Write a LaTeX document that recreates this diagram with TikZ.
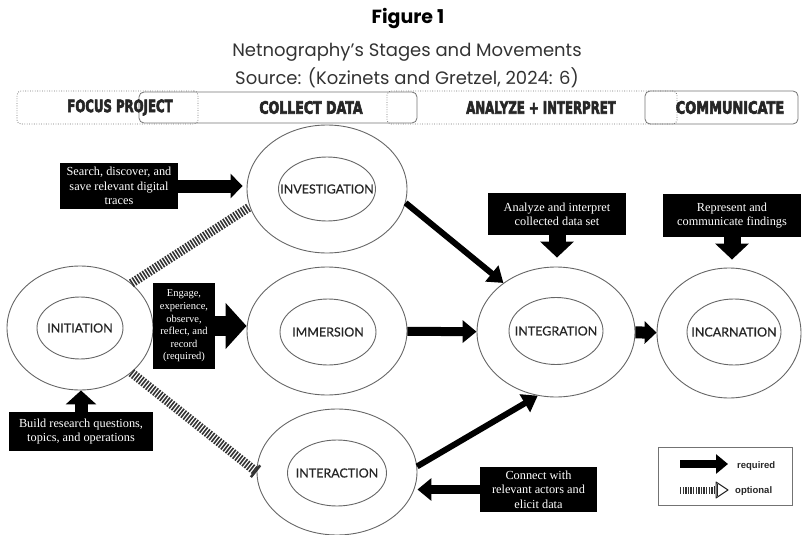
\documentclass[tikz,border=0pt]{standalone}
\usepackage{graphicx}
\usepackage{fontspec}
\setmainfont{Liberation Serif}
\newfontfamily\titlefont{Poppins}
\newfontfamily\hdrfont[BoldFeatures={FakeBold=4}]{DejaVu Sans}
\newfontfamily\labfont[FakeBold=0.6]{Lato}
\newfontfamily\legfont{Liberation Sans}
\usetikzlibrary{shapes.geometric,arrows.meta}
\begin{document}
\begin{tikzpicture}[x=1pt,y=-1pt,
  outerell/.style={draw=black!60, line width=0.9pt, ellipse, inner sep=0pt},
  innerell/.style={draw=black!60, line width=0.9pt, ellipse, inner sep=0pt},
  lab/.style={font=\labfont\fontsize{12.5}{14}\selectfont, text=black!85, inner sep=0pt},
  blk/.style={fill=black, text=white, align=center, inner sep=0pt,
    font=\fontsize{12.3}{14.3}\selectfont},
  hdr/.style={font=\hdrfont\bfseries\fontsize{17}{20}\selectfont, text=black!85, inner sep=0pt},
  hdotted/.style={draw=black!55, line width=0.8pt, dash pattern=on 0.8pt off 1.6pt, rounded corners=4pt, inner sep=0pt},
  hsolid/.style={draw=black!55, line width=0.8pt, rounded corners=5pt, inner sep=0pt},
  barrow/.style n args={3}{draw=black, line width=#1, -{Triangle[length=#2,width=#3]}},
  hatch/.style={draw=black!80, line width=9pt, dash pattern=on 1.6pt off 1.4pt},
  leg/.style={font=\legfont\bfseries\fontsize{9.5}{11}\selectfont, text=black!85, inner sep=0pt}
]
\useasboundingbox (0,0) rectangle (809,535);

% titles
\node[font=\titlefont\bfseries\fontsize{19}{22}\selectfont, inner sep=0pt] (fig) at (408,19) {Figure 1};
\node[font=\titlefont\fontsize{18}{20}\selectfont, text=black!80, inner sep=0pt] (ttl) at (407,52) {Netnography’s Stages and Movements};
\node[font=\titlefont\fontsize{18}{20}\selectfont, text=black!80, inner sep=0pt] (src) at (407,78) {Source: (Kozinets and Gretzel, 2024: 6)};

% header band
\node[hdotted, minimum width=181pt, minimum height=33pt] (focusbox) at (107.5,107.5) {};
\node[hdotted, minimum width=290pt, minimum height=33pt] (anabox) at (532,107.5) {};
\node[hsolid, minimum width=278pt, minimum height=31pt] (colbox) at (278,107.5) {};
\node[hsolid, minimum width=153pt, minimum height=33pt] (combox) at (721.5,107.5) {};
\node[hdr] (hfocus) at (120,107.5) {\scalebox{0.69}[1]{FOCUS PROJECT}};
\node[hdr] (hcollect) at (311,107.5) {\scalebox{0.74}[1]{COLLECT DATA}};
\node[hdr] (hanalyze) at (541,107.5) {\scalebox{0.69}[1]{ANALYZE + INTERPRET}};
\node[hdr] (hcomm) at (730,107.5) {\scalebox{0.76}[1]{COMMUNICATE}};

% ellipses
\node[outerell, minimum width=146pt, minimum height=124pt] (init) at (80,328) {};
\node[innerell, minimum width=86pt, minimum height=62pt] (initin) at (80,328) {};
\node[lab] (initl) at (80,328) {INITIATION};

\node[outerell, minimum width=160pt, minimum height=128pt] (inv) at (327,189) {};
\node[innerell, minimum width=97pt, minimum height=64pt] (invin) at (327,189) {};
\node[lab] (invl) at (327,189) {INVESTIGATION};

\node[outerell, minimum width=160pt, minimum height=128pt] (imm) at (327,331) {};
\node[innerell, minimum width=96pt, minimum height=66pt] (immin) at (328,332) {};
\node[lab] (imml) at (328,332) {IMMERSION};

\node[outerell, minimum width=160pt, minimum height=126pt] (inter) at (337,472) {};
\node[innerell, minimum width=99pt, minimum height=66pt] (interin) at (337,473) {};
\node[lab] (interl) at (337,473) {INTERACTION};

\node[outerell, minimum width=158pt, minimum height=130pt] (integ) at (556,332) {};
\node[innerell, minimum width=94pt, minimum height=67pt] (integin) at (556,331) {};
\node[lab] (integl) at (556,331) {INTEGRATION};

\node[outerell, minimum width=144pt, minimum height=130pt] (incar) at (729,333) {};
\node[innerell, minimum width=94pt, minimum height=66pt] (incarin) at (734,332) {};
\node[lab] (incarl) at (734,332) {INCARNATION};

% black boxes
\node[blk, minimum width=118pt, minimum height=46pt] (search) at (119,186) {Search, discover, and\\save relevant digital\\traces};
\node[blk, minimum width=62pt, minimum height=86pt, font=\fontsize{10.5}{12.6}\selectfont] (engage) at (184,326) {Engage,\\experience,\\observe,\\reflect, and\\record\\(required)};
\node[blk, minimum width=144pt, minimum height=39pt] (build) at (81,431.5) {Build research questions,\\topics, and operations};
\node[blk, minimum width=138pt, minimum height=42pt] (analyze) at (557,214) {Analyze and interpret\\collected data set};
\node[blk, minimum width=138pt, minimum height=43pt] (represent) at (732,215.5) {Represent and\\communicate findings};
\node[blk, minimum width=117pt, minimum height=45pt] (connect) at (538.5,489.5) {Connect with\\relevant actors and\\elicit data};

% required arrows
\draw[barrow={6pt}{15pt}{20pt}] (inv.-10) -- (integ.137);
\draw[barrow={9pt}{14pt}{22pt}] (imm) -- (integ);
\draw[barrow={6pt}{15pt}{20pt}] (inter.4) -- (integ.254);
\draw[barrow={12pt}{12pt}{22pt}] (integ) -- (incar);
\draw[barrow={13pt}{12pt}{24pt}, shorten >=4pt] (search.east) -- (search.east -| inv.west);
\draw[barrow={20pt}{21pt}{45pt}] (engage.east) -- (engage.east -| imm.west);
\draw[barrow={13pt}{14pt}{30pt}] (build.north) -- (build.north |- init.south);
\draw[barrow={17pt}{16pt}{33pt}, shorten >=9pt] (analyze.south) -- (analyze.south |- integ.north);
\draw[barrow={17pt}{16pt}{33pt}, shorten >=8pt] (represent.south) -- (represent.south |- incar.north);
\draw[barrow={9pt}{14pt}{22pt}] (connect.west) -- (connect.west -| inter.east);

% optional (hatched) arrows
\draw[hatch] (init.41) -- (inv.193);
\draw[hatch, -{Bar[width=15pt, line width=2.5pt]}] (init.-41) -- (inter.west);

% legend
\node[draw=black!55, line width=1pt, minimum width=134pt, minimum height=58pt, inner sep=0pt] (legbox) at (725,476) {};
\coordinate (lr1) at (680,464);
\coordinate (lr2) at (728,464);
\draw[barrow={8pt}{12pt}{19pt}] (lr1) -- (lr2);
\node[leg, anchor=west] (legreq) at (737,466) {required};
\coordinate (lo1) at (680,490);
\coordinate (lo2) at (714,490);
\coordinate (lo3) at (728,490);
\draw[draw=black!80, line width=7pt, dash pattern=on 1.4pt off 1.2pt] (lo1) -- (lo2);
\draw[black!85, line width=0.9pt] (lo2) ++(0,-4) -- ++(0,8) ++(3,-10) -- ++(0,12);
\draw[black!85, line width=1pt, line join=round] (lo2) ++(2,-8) -- (lo3) -- ++(-12,8) -- cycle;
\node[leg, anchor=west] (legopt) at (735,491) {optional};
\end{tikzpicture}
\end{document}
